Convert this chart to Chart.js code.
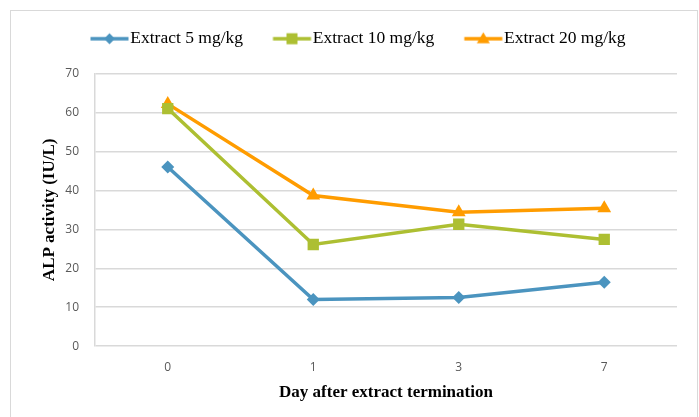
<!DOCTYPE html>
<html>
<head>
<meta charset="utf-8">
<script src="https://cdn.jsdelivr.net/npm/chart.js@4.4.0/dist/chart.umd.min.js"></script>
<style>
    html, body { margin: 0; padding: 0; background: #fff; overflow: hidden; }
    #wrap { position: relative; width: 699px; height: 417px; }
    #frame { position: absolute; left: 10px; top: 10px; width: 686px; height: 420px; border: 1.5px solid #d9d9d9; }
    canvas { position: absolute; left: 0; top: 0; }
</style>
</head>
<body>
<div id="wrap">
    <div id="frame"></div>
    <canvas id="alp-chart" width="699" height="417"></canvas>
</div>
<script>
// data
const days = ['0', '1', '3', '7'];
const extract5 = [46, 12, 12.5, 16.4];
const extract10 = [61, 26.1, 31.3, 27.4];
const extract20 = [62.2, 38.7, 34.4, 35.4];
const yMin = 0, yMax = 70, yStep = 10;

const blue = '#4b94bf';
const green = '#adbf32';
const orange = '#ff9c00';

// legend icon: short line with the marker in the middle
function legendIcon(color, style) {
    const c = document.createElement('canvas');
    c.width = 80; c.height = 16;
    const g = c.getContext('2d');
    const a = 24.5, len = 38, mid = a + len / 2;
    g.strokeStyle = color; g.lineWidth = 3.5;
    g.beginPath(); g.moveTo(a, 8); g.lineTo(a + len, 8); g.stroke();
    g.fillStyle = color;
    g.beginPath();
    if (style === 'rectRot') {
        g.moveTo(mid, 2.5); g.lineTo(mid + 5.5, 8); g.lineTo(mid, 13.5); g.lineTo(mid - 5.5, 8);
    } else if (style === 'rect') {
        g.rect(mid - 5.5, 2.5, 11, 11);
    } else {
        g.moveTo(mid, 1.5); g.lineTo(mid + 6.5, 12.5); g.lineTo(mid - 6.5, 12.5);
    }
    g.closePath(); g.fill();
    return c;
}

const series = [
    { label: 'Extract 5 mg/kg', data: extract5, color: blue, style: 'rectRot', r: 6.5 },
    { label: 'Extract 10 mg/kg', data: extract10, color: green, style: 'rect', r: 8 },
    { label: 'Extract 20 mg/kg', data: extract20, color: orange, style: 'triangle', r: 8 }
];

// extra room between legend and plot
const legendGap = {
    id: 'legendGap',
    afterInit(chart) {
        const legend = chart.legend;
        const fit = legend.fit;
        legend.fit = function () { fit.call(this); this.height += 16; };
    }
};

const ctx = document.getElementById('alp-chart').getContext('2d');
const alpChart = new Chart(ctx, {
    type: 'line',
    data: {
        labels: days,
        datasets: series.map(s => ({
            label: s.label,
            data: s.data,
            borderColor: s.color,
            backgroundColor: s.color,
            borderWidth: 3.5,
            pointStyle: s.style,
            pointRadius: s.r,
            pointHoverRadius: s.r,
            pointBorderWidth: 0,
            tension: 0,
            fill: false,
            icon: legendIcon(s.color, s.style)
        }))
    },
    plugins: [legendGap],
    options: {
        responsive: false,
        animation: false,
        layout: { padding: { left: 39, right: 22, top: 0, bottom: 14 } },
        scales: {
            x: {
                offset: true,
                grid: { display: false },
                border: { display: false },
                ticks: { color: '#595959', padding: 6, font: { family: 'Open Sans', size: 12 } },
                title: {
                    display: true,
                    text: 'Day after extract termination',
                    color: '#000',
                    padding: { top: 2, bottom: 0 },
                    font: { family: 'Liberation Serif', size: 17, weight: 'bold' }
                }
            },
            y: {
                min: yMin,
                max: yMax,
                grid: { color: '#d9d9d9', lineWidth: 1.5, drawTicks: false },
                border: { display: true, color: '#d9d9d9', width: 1.5 },
                ticks: { stepSize: yStep, color: '#595959', padding: 16, font: { family: 'Open Sans', size: 12 } },
                title: {
                    display: true,
                    text: 'ALP activity (IU/L)',
                    color: '#000',
                    padding: { top: 0, bottom: 0 },
                    font: { family: 'Liberation Serif', size: 17, weight: 'bold' }
                },
                afterFit: scale => { scale.width = 56; }
            }
        },
        plugins: {
            tooltip: { enabled: false },
            legend: {
                position: 'top',
                labels: {
                    usePointStyle: true,
                    pointStyleWidth: 31,
                    padding: 30,
                    color: '#000',
                    font: { family: 'Liberation Serif', size: 17.5 },
                    generateLabels: chart => chart.data.datasets.map((d, i) => ({
                        text: d.label,
                        pointStyle: d.icon,
                        fillStyle: d.borderColor,
                        strokeStyle: d.borderColor,
                        lineWidth: 0,
                        datasetIndex: i,
                        hidden: false
                    }))
                }
            }
        }
    }
});
</script>
</body>
</html>
